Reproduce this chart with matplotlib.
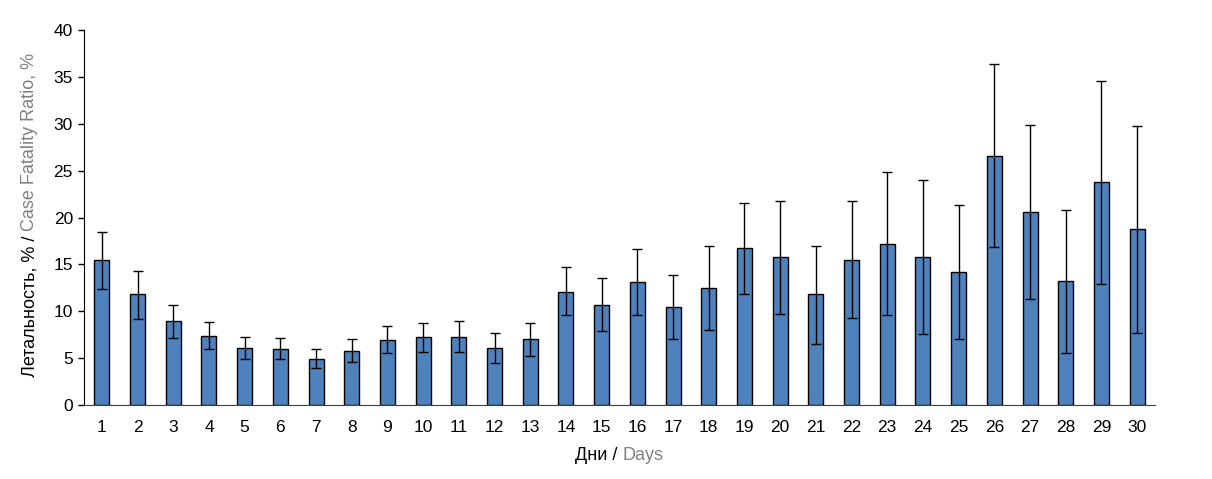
import numpy as np
import matplotlib
matplotlib.use("Agg")
import matplotlib.pyplot as plt
from matplotlib.transforms import IdentityTransform

plt.rcParams.update({
    "font.family": ["Liberation Sans", "DejaVu Sans"],
    "font.size": 12.5,
})

days = list(range(1, 31))
cfr = [15.5, 11.8, 9.0, 7.4, 6.1, 6.0, 4.9, 5.8, 6.9, 7.3,
       7.3, 6.1, 7.0, 12.1, 10.7, 13.1, 10.5, 12.5, 16.7, 15.8,
       11.8, 15.5, 17.2, 15.8, 14.2, 26.6, 20.6, 13.2, 23.8, 18.8]
ci_low = [12.4, 9.2, 7.1, 6.0, 4.9, 4.9, 3.9, 4.6, 5.6, 5.7,
          5.7, 4.5, 5.2, 9.6, 7.9, 9.6, 7.0, 8.0, 11.8, 9.7,
          6.5, 9.3, 9.6, 7.6, 7.0, 16.9, 11.3, 5.6, 12.9, 7.7]
ci_high = [18.5, 14.3, 10.7, 8.9, 7.3, 7.1, 6.0, 7.0, 8.4, 8.8,
           9.0, 7.7, 8.8, 14.7, 13.6, 16.6, 13.9, 17.0, 21.6, 21.8,
           17.0, 21.8, 24.9, 24.0, 21.3, 36.4, 29.9, 20.8, 34.6, 29.8]

y_ticks = [0, 5, 10, 15, 20, 25, 30, 35, 40]

fig = plt.figure(figsize=(12.12, 4.79), dpi=100)
ax = fig.add_axes([84 / 1212, 74 / 479, 1071 / 1212, 375 / 479])

cfr_a = np.array(cfr)
yerr = [cfr_a - np.array(ci_low), np.array(ci_high) - cfr_a]

ax.bar(days, cfr, width=0.42, color="#4F81BD", edgecolor="black",
       linewidth=1.0, zorder=2)
ax.errorbar(days, cfr, yerr=yerr, fmt="none", ecolor="black",
            elinewidth=1.0, capsize=3.8, capthick=1.0, zorder=3)

ax.set_xlim(0.5, 30.5)
ax.set_ylim(0, 40)
ax.set_yticks(y_ticks)
ax.set_xticks(days)
ax.tick_params(axis="x", length=0, pad=10.5)
ax.tick_params(axis="y", length=4, width=1, pad=4)
ax.spines["top"].set_visible(False)
ax.spines["right"].set_visible(False)
ax.spines["bottom"].set_color("#404040")
ax.spines["left"].set_color("black")


def two_tone(parts, cx, cy, rotation=0, size=13):
    """Place black + gray pieces centred at (cx, cy) in pixels."""
    renderer = fig.canvas.get_renderer()
    full = "".join(p for p, _ in parts)
    probe = fig.text(0, 0, full, fontsize=size, transform=IdentityTransform())
    bb = probe.get_window_extent(renderer)
    probe.remove()
    total = bb.width
    pos = cx - total / 2 if rotation == 0 else cy - total / 2
    for s, c in parts:
        pr = fig.text(0, 0, s, fontsize=size, transform=IdentityTransform())
        w = pr.get_window_extent(renderer).width
        pr.remove()
        if rotation == 0:
            fig.text(pos, cy, s, color=c, fontsize=size, ha="left",
                     va="center", transform=IdentityTransform())
        else:
            fig.text(cx, pos, s, color=c, fontsize=size, ha="center",
                     va="bottom", rotation=90, transform=IdentityTransform())
        pos += w


fig.canvas.draw()
two_tone([("Дни / ", "black"), ("Days", "#808080")], 619.5, 479 - 456)
two_tone([("Летальность, % / ", "black"), ("Case Fatality Ratio, %", "#808080")],
         30, 479 - 215, rotation=90)

fig.savefig("out.png", dpi=100)
